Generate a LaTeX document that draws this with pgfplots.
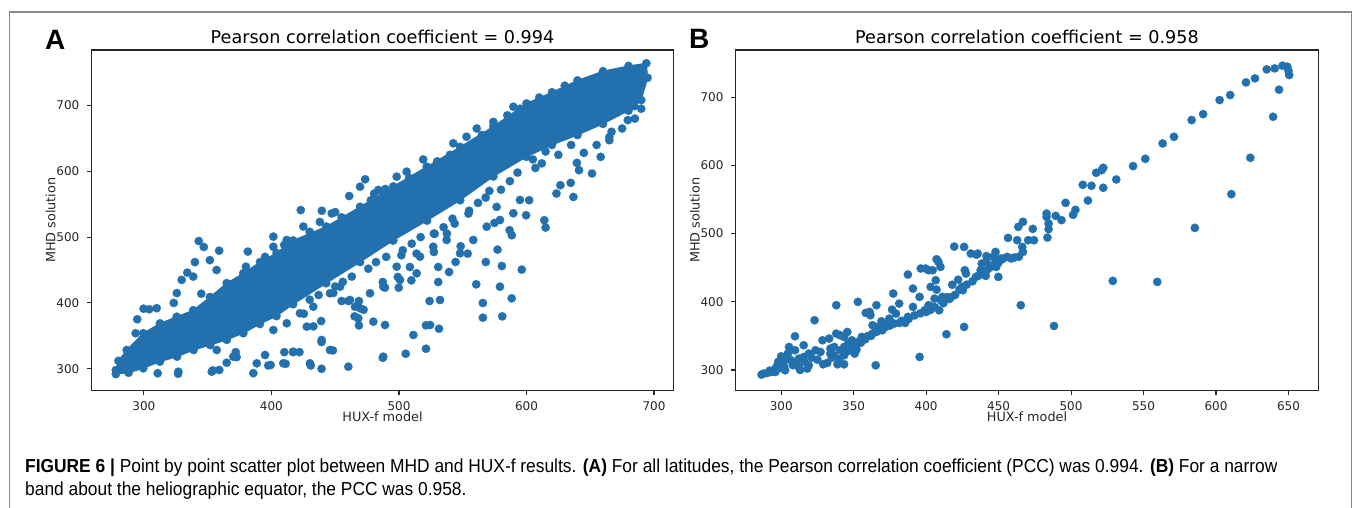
\documentclass[border=0pt]{standalone}
\usepackage{pgfplots}
\pgfplotsset{compat=1.18}
\usepackage{fontspec}
\setmainfont{DejaVu Sans}
\newfontfamily\capfont[FakeStretch=0.924]{Liberation Sans}
\newfontfamily\panelfont{Liberation Sans}
\definecolor{mplblue}{HTML}{2271AE}
\definecolor{framegray}{RGB}{135,135,135}
\pgfplotsset{
 mystyle/.style={
  scale only axis,
  axis line style={black!85, line width=1.1pt},
  tick style={black!85, line width=1.1pt},
  tick align=outside, major tick length=4.5pt,
  xtick pos=lower, ytick pos=left,
  ticklabel style={font=\fontsize{12}{14}\selectfont, text=black!85},
  /pgf/number format/assume math mode=true,
  /pgf/number format/1000 sep={},
  xticklabel style={anchor=base, inner sep=0pt, yshift=-15.3pt},
  yticklabel style={anchor=east, inner sep=0pt, xshift=-7.5pt},
  every axis x label/.style={at={(axis description cs:0.5,-0.0905)}, anchor=base, font=\fontsize{12.8}{15}\selectfont, text=black!85},
  every axis y label/.style={at={(axis description cs:-0.0619,0.5)}, rotate=90, anchor=base, font=\fontsize{12.8}{15}\selectfont, text=black!85},
  xlabel={HUX-f model}, ylabel={MHD solution},
 },
 dots/.style={only marks, mark=*, mark size=4.2pt, mark options={fill=mplblue, draw=mplblue, line width=0.2pt}},
}
\begin{document}
\begin{tikzpicture}
\path[use as bounding box] (0,0) rectangle (1355pt,-508pt);
\draw[framegray, line width=1.4pt] (9.5pt,-530pt) -- (9.5pt,-12pt) -- (1351.5pt,-12pt) -- (1351.5pt,-530pt);

% ---------------- Panel A ----------------
\begin{axis}[mystyle, name=A, at={(91.5pt,-390.5pt)}, anchor=south west,
  width=582pt, height=340.5pt,
  xmin=258.9, xmax=715.3, ymin=267, ymax=784.2,
  xtick={300,400,500,600,700}, ytick={300,400,500,600,700}]
% dense core of the cloud
\addplot[fill=mplblue, draw=mplblue, line width=1pt, mark=none] coordinates {
(278,298) (280,312) (286.5,328.5) (299.5,354) (312.6,369) (325.7,379) (338.7,389)
(351.8,409) (364.9,430) (377.9,445) (391,462) (404,476) (417,495) (443,516)
(469.5,546) (495.6,577) (521.8,607) (548,637) (574,668) (600,703) (620,720)
(640,738) (660,752) (680,760) (694,764)
(695,742) (690,708) (680,692) (660,672) (640,655) (620,640) (600,622) (574,592)
(548,556) (522,525) (495.6,495) (469.5,462) (443,430) (417,398) (404,380) (391,368)
(378,354) (365,344) (352,336) (339,328.5) (326,318.4) (312.6,310.8) (299.5,300.7)
(288,294) (278,292)
} -- cycle;
\addplot[dots] coordinates {
(278,298) (280,312) (286.5,328.5) (299.5,354) (312.6,369) (325.7,379) (338.7,389)
(351.8,409) (364.9,430) (377.9,445) (391,462) (404,476) (417,495) (443,516)
(469.5,546) (495.6,577) (521.8,607) (548,637) (574,668) (600,703) (620,720)
(640,738) (660,752) (680,760) (694,764) (695,742) (690,708) (680,692) (660,672)
(640,655) (620,640) (600,622) (574,592) (548,556) (522,525) (495.6,495) (469.5,462)
(443,430) (417,398) (404,380) (391,368) (378,354) (365,344) (352,336) (339,328.5)
(326,318.4) (312.6,310.8) (299.5,300.7) (288,294) (278,292)
(343,494) (347,485) (351.7,465) (340,462) (334,446) (329.6,435) (338.7,440)
(325.8,415) (345,414) (323.4,400) (310,392) (304.2,390.4) (299.7,391.3)
(294.8,375.2) (293.5,354) (301.6,351.3) (359,479.4) (357,450) (381.5,478)
(401.5,500.7) (401.5,485.4) (412,495.6) (423,541) (425,516) (438,523) (439.5,540)
(447.3,536) (450,538) (461,562.4) (469.5,576.6) (473.5,587.8) (480.5,566)
(483.8,571.6) (489.3,573) (498.2,591.8) (506,599.4) (519,618) (542.6,642.5)
(553,652.5) (561,665) (574,675) (589.7,698)
(380,455) (395,470) (410,488) (430,508) (455,530) (478,556) (488,566) (508,590)
(530,615) (540,625) (565,655) (585,685) (595,695) (610,712) (630,730)
(327,295.6) (310.8,293.2) (326.8,292.4) (353.2,295.6) (359.1,298.2) (354,297.5)
(364.9,309.2) (370.1,318.4) (372.7,317.7) (372,325.3) (385.8,293.2) (388.5,308.3)
(395,320.9) (397.5,305) (399.4,305.8) (357.1,328.5) (410.1,325.3) (411.1,307.6)
(416.9,325.3) (422,325.3) (430.8,305) (439.3,300) (439.3,340.6) (448.2,327.9)
(409.3,308.3) (417.1,326) (430.2,308.3) (460.3,303.2) (445.9,328.5) (439.4,343.7)
(427.7,364) (432.9,364.4) (439,372.5) (425.4,383.6) (401.5,358.9) (412,369.1)
(422.4,384.3) (432.8,394.3) (440.7,434.9) (445.9,414.7) (448.5,415.1) (455,402.9)
(460.4,402.9) (453.8,424.7) (461.6,404.5) (465.5,394.3) (469.5,391.9) (468.6,402.9)
(472.3,389.7) (465.2,379.6) (468.6,365.9) (468.1,376.7) (477.3,414.7) (479.9,371.6)
(487.7,424.7) (487.3,431.8) (489,423.2) (489.1,366.5) (487.7,318.4) (487.3,316.7)
(499.8,423.2) (499.1,439.4) (500.8,434.9) (498.2,455.1) (501.9,472.4) (495.1,495.2)
(505.3,322.8) (508.6,454.6) (509.7,434.3) (511.3,351.3) (513.8,474.9) (513.9,445)
(516.5,470.3) (521.2,365.9) (521.2,330.4) (524,402.9) (524.4,366.5) (526.9,485.4)
(527.4,477.4) (527.4,505.3) (530.8,431.8) (530.8,454.6) (531.4,360.8) (532.2,404.5)
(537.4,495.6) (537.6,505.3) (539.3,447) (543.7,520.5) (544.4,462.2) (547.9,475.4)
(548.4,486.1) (553.9,474.9) (554.5,535.7) (558.3,495.6) (560.6,428.3) (561.3,586.4)
(565.8,399.9) (565.8,377.6) (568.1,462.2) (568.8,515.8) (570.9,570.2) (574.9,521.5)
(576.6,545.9) (577.3,481) (579.2,526) (579.2,424.7) (580.7,456.1) (581,379.6)
(586.8,510.4) (588.4,407) (588.5,502.8) (589.7,536.2) (594.9,556.4) (596.3,450.6)
(599.7,533.2) (602.1,556.1) (614,525.6) (615,514.5) (623.5,566.2) (626.6,578.8)
(634.7,582.4) (636.8,561) (639.5,612.8) (641.2,601.6) (651.4,596.6) (658.2,621.9)
(665,647.2) (666.7,660) (679.5,677.7) (684.6,699)
(605,618) (615,630) (625,625) (635,640) (645,628) (655,640) (665,652) (675,665)
(685,680) (690,695)
(430,405) (437,412) (450,425) (456,432) (463,440) (476,452) (482,462) (490,470)
(503,480) (510,490) (517,500) (528,505) (535,515) (542,528) (555,540) (562,552)
(568,560) (580,572) (587,585) (593,598) (607,605) (612,612)
};
\end{axis}
\node[anchor=base, inner sep=0pt, font=\fontsize{17.6}{20}\selectfont] at ([yshift=6.7pt]A.north) {Pearson correlation coefficient = 0.994};
\node[anchor=base west, inner sep=0pt, font=\panelfont\bfseries\fontsize{28}{30}\selectfont] at (45pt,-49.3pt) {A};

% ---------------- Panel B ----------------
\begin{axis}[mystyle, name=B, at={(735.7pt,-390.7pt)}, anchor=south west,
  width=582.6pt, height=340.7pt,
  xmin=268.6, xmax=670.6, ymin=269.6, ymax=769,
  xtick={300,350,400,450,500,550,600,650}, ytick={300,400,500,600,700}]
\addplot[dots] coordinates {
(635,740.6) (640.5,742) (645.9,746) (649.2,744.5) (650,738.6) (650.5,732.3)
(620.7,721.5) (626.9,727.4) (643.5,710.8) (639.4,671.1) (602.5,695.6) (609.8,703)
(591.1,675) (583.2,666.3) (571,641.8) (563.2,632) (551.2,609.5) (542.8,598.8)
(531.2,579.2) (522.2,596.3) (521.1,592.9) (517.3,589) (522.2,567) (514.1,570)
(508.1,571.4) (511.6,548.4) (503,534.7) (501.4,527.4) (496.2,545) (493.4,519.6)
(489.4,525.9) (483.1,524.4) (483.1,529.3) (484.5,514.7) (484.5,506.4) (483.7,494.1)
(473.6,506.8) (474.4,490.2) (470.4,490.2) (466.8,517.1) (463.6,509.8) (466.3,480.4)
(466.8,473.1) (462.8,490.2) (456.5,493.6) (458.7,463.3) (456,465.8) (453,463.3)
(451.4,463.3) (450,457.5) (447.9,473.1) (448.4,451.1) (449.8,436.4) (446.3,465.8)
(441.6,466.8) (441.6,458.4) (438.4,456) (441.9,446.2) (437.6,446.2) (441.1,437.9)
(434.3,436.4) (435.6,470.6) (430.8,470.6) (426.2,480.4) (419.4,480.9) (426.7,446.2)
(427.5,441.3) (424.8,421.8) (425.3,416.9) (422.1,432.3) (418,424.9) (417.2,406.8)
(414.5,406.8) (410.4,401.2) (411.2,407.1) (409,387.5) (407.2,462.3) (408.5,458.4)
(409.9,451.1) (406.6,431.5) (404.5,446.2) (401.7,446.2) (399.6,448.7) (396.3,448.7)
(403.1,421.8) (407.2,417.8) (405.8,404.6) (401.7,394.9) (404.5,392.4) (399,387.5)
(395.5,407.1) (390.9,419.3) (390.9,392.4) (387.4,439.9) (395.5,319.1) (387.4,377.8)
(385.5,368.9) (381.4,368.9) (379.2,382.6) (377.3,412) (381.4,397.3) (376.5,388.5)
(374.6,375.3) (373.2,368) (371.9,363.1) (369.7,358.2) (367.8,363.1) (369.1,371.4)
(365.7,394.9) (361,385.1) (361.6,380.2) (358.3,383.6) (363,365.5) (363,353.3)
(365.2,363.1) (359.9,349.9) (355.6,348.4) (352.9,341.1) (352.9,399.8) (348.8,343.5)
(351.5,333.7) (350.7,324) (347.5,328.9) (346.1,338.6) (344.8,326.4) (343.4,333.7)
(340.7,328.9) (343.4,321.5) (345.6,355.7) (343.4,348.4) (340.7,350.9) (338,394.9)
(336.6,333.7) (333.9,331.3) (333.9,324) (336.6,321.5) (329,308.3) (331.7,310.3)
(333.1,346) (338,353.3) (328.5,343.5) (327.1,326.4) (338.8,308.3) (343.4,308.3)
(323,372.9) (323.6,328.9) (319,324) (319,306.8) (315.5,336.2) (315.5,319.1)
(312.2,316.6) (309.5,328.9) (309.5,349.4) (304.6,324) (306.8,314.2) (302.7,299.5)
(300,320) (300,309.3) (297.3,306.8) (295.9,301.9) (293.2,297.1) (290.5,295.6)
(287.8,294.6) (286.4,293.2) (305.4,333.7) (365.2,306.8) (465.3,394.9) (488.2,364.5)
(426.2,363.1) (414,352.3) (528.8,430.6) (559.5,429.1) (585.4,508.3) (610.6,557.7)
(623.7,611) (434.8,468.9)
(298,312) (302,305) (308,307) (312,305) (316,312) (321,318) (325,315) (310,310)
(304,316) (299,303) (292,299) (296,297) (318,302) (313,300)
(348,335) (355,340) (358,345) (352,330) (346,332) (335,318) (340,316) (362,350)
(366,356) (370,360) (375,365) (378,368) (383,372) (388,375) (392,380) (396,383)
(400,385) (403,388) (406,392) (412,398) (416,404) (420,410) (423,418) (428,425)
(432,430) (436,438) (440,442) (444,450) (447,455) (452,462) (461,465) (464,466)
};
\end{axis}
\node[anchor=base, inner sep=0pt, font=\fontsize{17.6}{20}\selectfont] at ([yshift=6.7pt]B.north) {Pearson correlation coefficient = 0.958};
\node[anchor=base west, inner sep=0pt, font=\panelfont\bfseries\fontsize{28}{30}\selectfont] at (689pt,-49pt) {B};

% ---------------- Caption ----------------
\node[anchor=base west, inner sep=0pt, font=\capfont\fontsize{18.8}{22}\selectfont] at (25pt,-472.7pt)
 {\textbf{FIGURE 6 |} Point by point scatter plot between MHD and HUX-f results. \textbf{(A)} For all latitudes, the Pearson correlation coefficient (PCC) was 0.994. \textbf{(B)} For a narrow};
\node[anchor=base west, inner sep=0pt, font=\capfont\fontsize{18.8}{22}\selectfont] at (25pt,-495.7pt)
 {band about the heliographic equator, the PCC was 0.958.};
\end{tikzpicture}
\end{document}
